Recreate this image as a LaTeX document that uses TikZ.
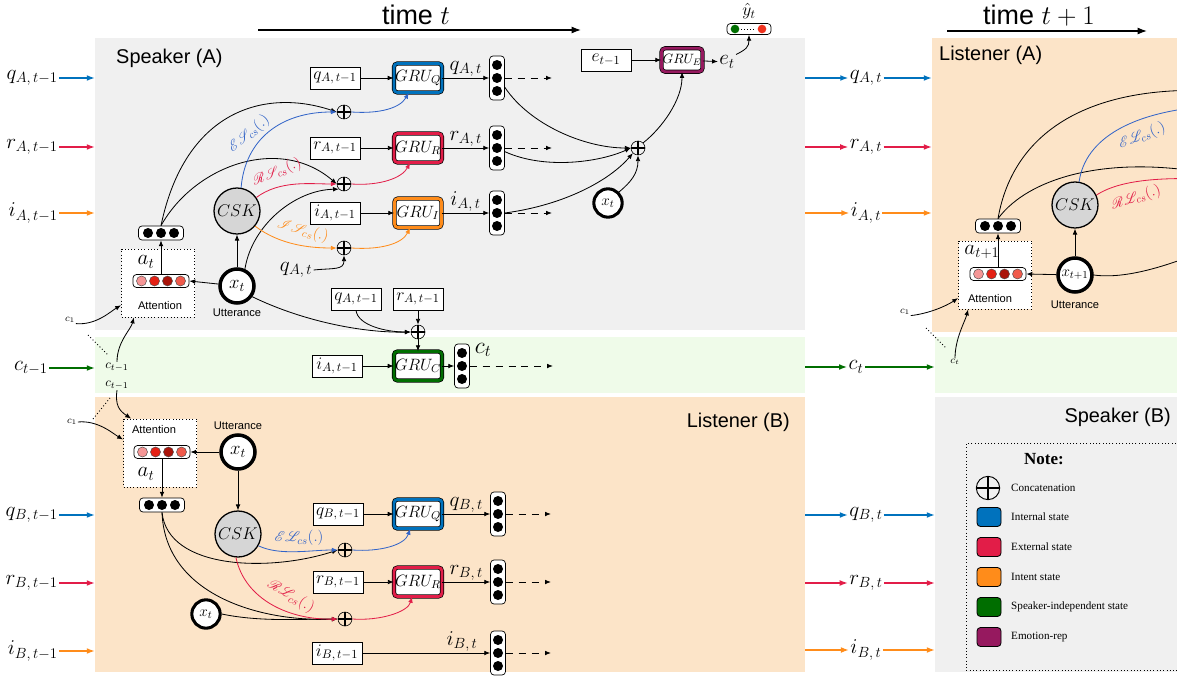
\RequirePackage{fix-cm}
\documentclass[tikz,border=0pt]{standalone}
\usepackage{fontspec}
\setmainfont{Liberation Serif}
\newfontfamily\hvfont{Liberation Sans}
\usepackage{amsmath}
\IfFileExists{mathrsfs.sty}{\usepackage{mathrsfs}}{\newcommand\mathscr{\mathcal}}
\usetikzlibrary{arrows.meta,positioning,calc}

\definecolor{qblue}{RGB}{0,114,189}
\definecolor{esblue}{RGB}{50,100,200}
\definecolor{rred}{RGB}{226,29,72}
\definecolor{iorange}{RGB}{255,140,26}
\definecolor{cgreen}{RGB}{0,110,0}
\definecolor{epurple}{RGB}{150,25,95}
\definecolor{panelgray}{RGB}{240,240,240}
\definecolor{panelpeach}{RGB}{252,228,200}
\definecolor{panelgreen}{RGB}{239,251,233}
\definecolor{attone}{RGB}{245,150,150}
\definecolor{atttwo}{RGB}{228,32,20}
\definecolor{attthree}{RGB}{170,20,10}
\definecolor{attfour}{RGB}{240,90,75}
\definecolor{yred}{RGB}{240,50,30}

\tikzset{
  panel/.style={fill=#1,draw=none,anchor=north west,inner sep=0pt,outer sep=0pt},
  arr/.style={-{Latex[length=5pt,width=4pt]},line width=0.7pt},
  inarr/.style={-{Latex[length=7pt,width=5pt]},line width=1.3pt},
  tarr/.style={-{Latex[length=8pt,width=6pt]},line width=1.2pt},
  dashes/.style={dash pattern=on 6pt off 5pt},
  dotline/.style={dotted,line width=0.8pt},
  title/.style={font=\hvfont\fontsize{17}{19}\selectfont,inner sep=0pt},
  timelab/.style={font=\hvfont\fontsize{23}{26}\selectfont,inner sep=0pt},
  sans/.style={font=\hvfont\fontsize{9.5}{11}\selectfont,inner sep=0pt},
  inlab/.style={font=\fontsize{18}{20}\selectfont,inner sep=1pt},
  outlab/.style={font=\fontsize{18}{20}\selectfont,inner sep=1pt},
  fnlab/.style={font=\fontsize{13}{15}\selectfont,inner sep=0pt},
  clab/.style={font=\fontsize{8.5}{10}\selectfont,inner sep=0.5pt},
  ctlab/.style={font=\fontsize{11}{12}\selectfont,inner sep=0.5pt},
  legtxt/.style={font=\fontsize{9.5}{11}\selectfont,inner sep=0pt,anchor=west},
  notelab/.style={font=\bfseries\fontsize{14.5}{16}\selectfont,inner sep=0pt},
  sbox/.style={draw,fill=white,line width=0.7pt,minimum width=1.5cm,minimum height=0.66cm,inner sep=1pt,font=\fontsize{15}{17}\selectfont},
  gru/.style={draw=black,double=#1,double distance=2.4pt,line width=0.6pt,rounded corners=3pt,fill=white,
    minimum width=1.41cm,minimum height=0.87cm,inner sep=1pt,font=\fontsize{14}{16}\selectfont},
  vvec/.style={draw,fill=white,line width=0.6pt,rounded corners=3pt,minimum width=0.45cm,minimum height=1.32cm,inner sep=0pt,
    path picture={\foreach \k in {-1,0,1}
      \fill[black] ([yshift=\k*0.39cm]path picture bounding box.center) circle (0.15cm);}},
  hvec/.style={draw,fill=white,line width=0.6pt,rounded corners=3pt,minimum width=1.35cm,minimum height=0.42cm,inner sep=0pt,
    path picture={\foreach \k in {-1,0,1}
      \fill[black] ([xshift=\k*0.39cm]path picture bounding box.center) circle (0.15cm);}},
  avec/.style={draw,fill=white,line width=0.6pt,rounded corners=3pt,minimum width=1.68cm,minimum height=0.39cm,inner sep=0pt,
    path picture={\foreach \k/\col in {-1.5/attone,-0.5/atttwo,0.5/attthree,1.5/attfour}
      \filldraw[fill=\col,draw=black!70,line width=0.4pt] ([xshift=\k*0.39cm]path picture bounding box.center) circle (0.15cm);}},
  yvec/.style={draw,fill=white,line width=0.6pt,rounded corners=3pt,minimum width=1.32cm,minimum height=0.33cm,inner sep=0pt,
    path picture={
      \fill[cgreen] ([xshift=-0.42cm]path picture bounding box.center) circle (0.13cm);
      \fill[yred] ([xshift=0.39cm]path picture bounding box.center) circle (0.13cm);
      \draw[dotted,line width=0.6pt] ([xshift=-0.24cm]path picture bounding box.center) -- ([xshift=0.21cm]path picture bounding box.center);}},
  plus/.style={circle,draw,line width=0.5pt,minimum size=0.42cm,inner sep=0pt,
    path picture={\draw[line width=#1] (path picture bounding box.north) -- (path picture bounding box.south)
      (path picture bounding box.west) -- (path picture bounding box.east);}},
  plus/.default=1.1pt,
  csk/.style={circle,draw,fill=black!16,line width=1.1pt,minimum size=1.38cm,inner sep=0pt,font=\fontsize{14.5}{16}\selectfont},
  xnode/.style={circle,draw,fill=white,line width=3pt,minimum size=1.02cm,inner sep=0pt,font=\fontsize{16}{18}\selectfont},
  xsmall/.style={xnode,line width=2.6pt,minimum size=0.85cm,font=\fontsize{13}{15}\selectfont},
  attbox/.style={draw,dotted,fill=white,line width=0.8pt,minimum width=2.19cm,minimum height=2.04cm},
  legbox/.style={draw,dotted,line width=0.8pt,anchor=north west,minimum width=8cm,minimum height=6.81cm},
  legsq/.style={draw,fill=#1,rounded corners=3pt,minimum width=0.72cm,minimum height=0.57cm,line width=0.7pt}
}

\begin{document}
\begin{tikzpicture}[x=0.03cm,y=-0.03cm]
\useasboundingbox (0,0) rectangle (1177,679);
\clip (0,0) rectangle (1177,679);

% background panels
\node[panel=panelgray,minimum width=21.3cm,minimum height=8.76cm] (spkA) at (95,38) {};
\node[panel=panelgreen,minimum width=21.3cm,minimum height=1.68cm] (globA) at (95,337) {};
\node[panel=panelpeach,minimum width=21.3cm,minimum height=8.25cm] (lisB) at (95,397) {};
\node[panel=panelpeach,minimum width=9cm,minimum height=8.82cm] (lisA) at (932,38) {};
\node[panel=panelgreen,minimum width=9cm,minimum height=1.68cm] (globB) at (935,337) {};
\node[panel=panelgray,minimum width=9cm,minimum height=8.25cm] (spkB) at (935,397) {};

\node[title,anchor=west] (tspkA) at (116,58) {Speaker (A)};
\node[title,anchor=east] (tlisB) at (790,422) {Listener (B)};
\node[title,anchor=west] (tlisA) at (939,55) {Listener (A)};
\node[title,anchor=east] (tspkB) at (1171,417) {Speaker (B)};

% time axes
\node[timelab] (timeA) at (416,15) {time $t$};
\coordinate (tA0) at (258,30);
\coordinate (tA1) at (581,30);
\draw[tarr] (tA0) -- (tA1);
\node[timelab] (timeB) at (1039,16) {time $t+1$};
\coordinate (tB0) at (947,31);
\coordinate (tB1) at (1147,31);
\draw[tarr] (tB0) -- (tB1);

% states coming in at t-1
\node[inlab,anchor=east] (qinA) at (59,78) {$q_{A,\,t-1}$};
\node[inlab,anchor=east] (rinA) at (59,147) {$r_{A,\,t-1}$};
\node[inlab,anchor=east] (iinA) at (59,213) {$i_{A,\,t-1}$};
\node[inlab,anchor=east] (cin) at (49,368) {$c_{t-1}$};
\node[inlab,anchor=east] (qinB) at (59,515) {$q_{B,\,t-1}$};
\node[inlab,anchor=east] (rinB) at (59,583) {$r_{B,\,t-1}$};
\node[inlab,anchor=east] (iinB) at (59,651) {$i_{B,\,t-1}$};
\foreach \n/\col/\pan in {qinA/qblue/spkA,rinA/rred/spkA,iinA/iorange/spkA,cin/cgreen/globA,
  qinB/qblue/lisB,rinB/rred/lisB,iinB/iorange/lisB}
  \draw[inarr,\col] (\n.east) -- (\n.east -| \pan.west);

% states passed on to t+1
\node[inlab] (qAt) at (866,78) {$q_{A,\,t}$};
\node[inlab] (rAt) at (866,147) {$r_{A,\,t}$};
\node[inlab] (iAt) at (866,213) {$i_{A,\,t}$};
\node[inlab] (cAt) at (856,367) {$c_t$};
\node[inlab] (qBt) at (866,515) {$q_{B,\,t}$};
\node[inlab] (rBt) at (866,583) {$r_{B,\,t}$};
\node[inlab] (iBt) at (866,650) {$i_{B,\,t}$};
\foreach \n/\col/\panl/\panr in {qAt/qblue/spkA/lisA,rAt/rred/spkA/lisA,iAt/iorange/spkA/lisA,cAt/cgreen/globA/globB,
  qBt/qblue/lisB/spkB,rBt/rred/lisB/spkB,iBt/iorange/lisB/spkB} {
  \draw[inarr,\col] (\n.west -| \panl.east) -- (\n.west);
  \draw[inarr,\col] (\n.east) -- (\n.east -| \panr.west);
}

% speaker A
\node[sbox] (qprevA) at (335,78) {$q_{A,\,t-1}$};
\node[gru=qblue] (gruQA) at (418,78) {$GRU_Q$};
\node[vvec] (vqA) at (497,78) {};
\node[sbox] (rprevA) at (335,148) {$r_{A,\,t-1}$};
\node[gru=rred] (gruRA) at (418,148) {$GRU_R$};
\node[vvec] (vrA) at (497,148) {};
\node[sbox] (iprevA) at (335,213) {$i_{A,\,t-1}$};
\node[gru=iorange] (gruIA) at (418,213) {$GRU_I$};
\node[vvec] (viA) at (497,213) {};
\foreach \pv/\gr/\vc/\lab in {qprevA/gruQA/vqA/q,rprevA/gruRA/vrA/r,iprevA/gruIA/viA/i} {
  \draw[arr] (\pv) -- (\gr);
  \draw[arr] (\gr) -- node[outlab,above] {$\lab_{A,\,t}$} (\vc);
  \draw[arr,dashes] (\vc.east) -- ++(47,0);
}

\node[plus] (pQA) at (344,112) {};
\node[plus] (pRA) at (344,184) {};
\node[plus] (pIA) at (344,248) {};
\node[csk] (cskA) at (237,211) {$CSK$};
\node[xnode] (xA) at (237,286) {$x_t$};
\node[sans] (uttA) at (237,313) {Utterance};
\node[attbox] (attA) at (158,283) {};
\node[avec] (avA) at (161,281) {};
\node[outlab] (aA) at (146,262) {$a_t$};
\node[sans] (attAt) at (160,306) {Attention};
\node[hvec] (hA) at (161,233) {};
\draw[arr] (xA) -- (cskA);
\draw[arr] (xA) -- (avA.east);
\draw[arr] (avA.north) -- (hA.south);
\draw[arr] (hA.north) .. controls (185,110) and (265,88) .. (pQA.west);
\draw[arr] (hA.north) .. controls (195,165) and (280,135) .. (pRA.west);
\draw[arr,esblue] (cskA.80) .. controls (245,140) and (280,112) .. (pQA.west);
\node[fnlab,esblue,rotate=40] (esA) at (249,134) {$\mathscr{E}\mathscr{S}_{cs}(.)$};
\draw[arr,rred] (cskA.35) .. controls (280,180) and (310,184) .. (pRA.west);
\node[fnlab,rred,rotate=22] (rsA) at (277,172) {$\mathscr{R}\mathscr{S}_{cs}(.)$};
\draw[arr] (xA.65) .. controls (252,225) and (295,190) .. (pRA.south west);
\draw[arr,iorange] (cskA.-40) .. controls (280,245) and (310,248) .. (pIA.west);
\node[fnlab,iorange,rotate=-15] (isA) at (303,231) {$\mathscr{I}\mathscr{S}_{cs}(.)$};
\node[outlab] (qAin) at (296,270) {$q_{A,\,t}$};
\draw[arr] (qAin.east) .. controls +(20,-2) and +(0,15) .. (pIA.south);
\draw[arr,esblue] (pQA.east) .. controls (380,114) and (400,108) .. (gruQA.-122);
\draw[arr,rred] (pRA.east) .. controls (380,186) and (402,178) .. (gruRA.-118);
\draw[arr,iorange] (pIA.east) .. controls (380,250) and (402,244) .. (gruIA.-118);

% speaker-independent state
\node[sbox] (qprevC) at (356,299) {$q_{A,\,t-1}$};
\node[sbox] (rprevC) at (418,299) {$r_{A,\,t-1}$};
\node[plus] (pC) at (418,332) {};
\node[gru=cgreen] (gruC) at (418,366) {$GRU_C$};
\node[sbox] (iprevC) at (337,366) {$i_{A,\,t-1}$};
\node[vvec] (vC) at (462,366) {};
\node[outlab,font=\fontsize{20}{22}\selectfont] (ctl) at (483,350) {$c_t$};
\draw[arr] (rprevC) -- (pC);
\draw[arr] (qprevC.south) .. controls +(2,15) and +(-25,0) .. (pC.west);
\draw[arr] (xA.-35) .. controls (300,320) and (360,333) .. (pC.west);
\draw[arr] (pC) -- (gruC);
\draw[arr] (iprevC) -- (gruC);
\draw[arr] (gruC) -- (vC);
\draw[arr,dashes] (vC.east) -- ++(83,0);

% emotion
\node[sbox] (eprev) at (606,60) {$e_{t-1}$};
\node[gru=epurple,minimum width=1.2cm,minimum height=0.7cm,font=\fontsize{11.5}{13}\selectfont] (gruE) at (682,60) {$GRU_E$};
\node[outlab] (et) at (727,62) {$e_t$};
\node[yvec] (yhat) at (749,29) {};
\node[outlab,font=\fontsize{15}{17}\selectfont] (yhatl) at (749,11) {$\hat{y}_t$};
\node[plus] (pE) at (638,148) {};
\node[xsmall] (xE) at (608,203) {$x_t$};
\draw[arr] (eprev) -- (gruE);
\draw[arr] (gruE) -- (et);
\draw[arr] (et.north east) .. controls +(10,-5) and +(0,12) .. (yhat.south);
\draw[arr] (vqA.-50) .. controls (530,125) and (585,148) .. (pE.west);
\draw[arr] (vrA.-25) .. controls (545,170) and (600,162) .. (pE.west);
\draw[arr] (viA.east) .. controls (565,205) and (610,180) .. (pE.south west);
\draw[arr] (xE.north east) .. controls +(12,-10) and +(0,18) .. (pE.south);
\draw[arr] (pE.north east) .. controls (662,128) and (682,100) .. (gruE.south);

% attention inputs
\node[clab] (c1A) at (70,320) {$c_1$};
\node[ctlab] (ctA) at (117,367) {$c_{t-1}$};
\node[ctlab] (ctB) at (117,385) {$c_{t-1}$};
\node[clab] (c1B) at (72,422) {$c_1$};
\draw[arr] (c1A.south east) .. controls +(20,2) and +(-10,6) .. (attA.211);
\draw[arr] (ctA.north) .. controls +(0,-20) and +(-3,12) .. (attA.-125);
\coordinate (dA0) at (88,335);
\coordinate (dA1) at (108,355);
\draw[dotline] (dA0) -- (dA1);

% listener B
\node[attbox] (attB) at (160,453) {};
\node[sans] (attBt) at (154,430) {Attention};
\node[avec] (avB) at (162,452) {};
\node[outlab] (aB) at (146,474) {$a_t$};
\node[hvec] (hB) at (162,505) {};
\node[xnode] (xB) at (238,452) {$x_t$};
\node[sans] (uttB) at (238,426) {Utterance};
\node[csk] (cskB) at (238,534) {$CSK$};
\draw[arr] (xB) -- (avB.east);
\draw[arr] (xB) -- (cskB);
\draw[arr] (avB.south) -- (hB.north);
\draw[arr] (ctB.south) .. controls +(-2,15) and +(-12,-8) .. (attB.130);
\draw[arr] (c1B.east) .. controls +(20,-2) and +(-10,-6) .. (attB.160);
\coordinate (dB0) at (93,419);
\coordinate (dB1) at (110,398);
\draw[dotline] (dB0) -- (dB1);

\node[sbox] (qprevB) at (338,514) {$q_{B,\,t-1}$};
\node[gru=qblue] (gruQB) at (418,514) {$GRU_Q$};
\node[vvec] (vqB) at (498,514) {};
\node[sbox] (rprevB) at (338,582) {$r_{B,\,t-1}$};
\node[gru=rred] (gruRB) at (418,582) {$GRU_R$};
\node[vvec] (vrB) at (498,582) {};
\node[sbox] (iprevB) at (337,653) {$i_{B,\,t-1}$};
\node[vvec] (viB) at (498,653) {};
\foreach \pv/\gr/\vc/\lab in {qprevB/gruQB/vqB/q,rprevB/gruRB/vrB/r} {
  \draw[arr] (\pv) -- (\gr);
  \draw[arr] (\gr) -- node[outlab,above] {$\lab_{B,\,t}$} (\vc);
}
\draw[arr] (iprevB) -- node[outlab,above,pos=0.78] {$i_{B,\,t}$} (viB);
\foreach \vc in {vqB,vrB,viB}
  \draw[arr,dashes] (\vc.east) -- ++(45,0);

\node[plus] (pQB) at (345,550) {};
\node[plus] (pRB) at (345,619) {};
\node[xsmall] (xsB) at (206,614) {$x_t$};
\draw[arr] (hB.south) .. controls (168,570) and (270,572) .. (pQB.west);
\draw[arr] (hB.south) .. controls (165,595) and (260,622) .. (pRB.west);
\draw[arr] (xsB.east) .. controls (260,622) and (300,619) .. (pRB.west);
\draw[arr,esblue] (cskB.-30) .. controls (280,556) and (310,550) .. (pQB.west);
\node[fnlab,esblue] (elB) at (299,538) {$\mathscr{E}\mathscr{L}_{cs}(.)$};
\draw[arr,rred] (cskB.-95) .. controls (245,600) and (290,620) .. (pRB.west);
\node[fnlab,rred,rotate=-30] (rlB) at (291,596) {$\mathscr{R}\mathscr{L}_{cs}(.)$};
\draw[arr,esblue] (pQB.east) .. controls (380,552) and (405,545) .. (gruQB.-118);
\draw[arr,rred] (pRB.east) .. controls (380,621) and (408,612) .. (gruRB.-112);

% listener A at t+1
\node[attbox] (attA2) at (995,275) {};
\node[avec] (avA2) at (998,274) {};
\node[outlab] (aA2) at (982,252) {$a_{t+1}$};
\node[sans] (attA2t) at (990,299) {Attention};
\node[hvec] (hA2) at (998,226) {};
\node[csk] (cskA2) at (1075,205) {$CSK$};
\node[xnode,font=\fontsize{13}{15}\selectfont] (xA2) at (1075,275) {$x_{t+1}$};
\node[sans] (uttA2) at (1075,305) {Utterance};
\draw[arr] (xA2) -- (avA2.east);
\draw[arr] (xA2) -- (cskA2);
\draw[arr] (avA2.north) -- (hA2.south);
\coordinate (oA1) at (1260,95);
\coordinate (oA2) at (1240,180);
\coordinate (oA3) at (1230,105);
\coordinate (oA4) at (1230,180);
\coordinate (oA5) at (1230,240);
\draw[line width=0.7pt] (hA2.north) .. controls (1015,120) and (1110,75) .. (oA1);
\draw[line width=0.7pt] (hA2.north) .. controls (1030,175) and (1120,150) .. (oA2);
\draw[line width=0.7pt,esblue] (cskA2.80) .. controls (1085,140) and (1130,108) .. (oA3);
\node[fnlab,esblue,rotate=22] (elA2) at (1142,136) {$\mathscr{E}\mathscr{L}_{cs}(.)$};
\draw[line width=0.7pt,rred] (cskA2.25) .. controls (1120,180) and (1160,176) .. (oA4);
\node[fnlab,rred,rotate=18] (rlA2) at (1136,198) {$\mathscr{R}\mathscr{L}_{cs}(.)$};
\draw[line width=0.7pt] (xA2.east) .. controls (1130,280) and (1180,262) .. (oA5);
\node[clab] (c1A2) at (905,312) {$c_1$};
\node[clab] (ctA2) at (955,362) {$c_t$};
\draw[arr] (c1A2.south east) .. controls +(18,-2) and +(-12,8) .. (attA2.212);
\draw[arr] (ctA2.north) .. controls +(0,-20) and +(-3,12) .. (attA2.-128);
\coordinate (dC0) at (926,328);
\coordinate (dC1) at (946,348);
\draw[dotline] (dC0) -- (dC1);

% legend
\node[legbox] (legend) at (966,443) {};
\node[notelab] (note) at (1044,459) {Note:};
\node[plus=2pt,minimum size=0.7cm,line width=0.8pt] (legP) at (988,488) {};
\node[legtxt] (legPt) at (1011,488) {Concatenation};
\foreach \col/\txt [count=\i] in {qblue/Internal state,rred/External state,iorange/Intent state,
  cgreen/Speaker-independent state,epurple/Emotion-rep} {
  \node[legsq=\col] (leg\i) at (989,487+30*\i) {};
  \node[legtxt] (legt\i) at (1011,487+30*\i) {\txt};
}
\end{tikzpicture}
\end{document}
